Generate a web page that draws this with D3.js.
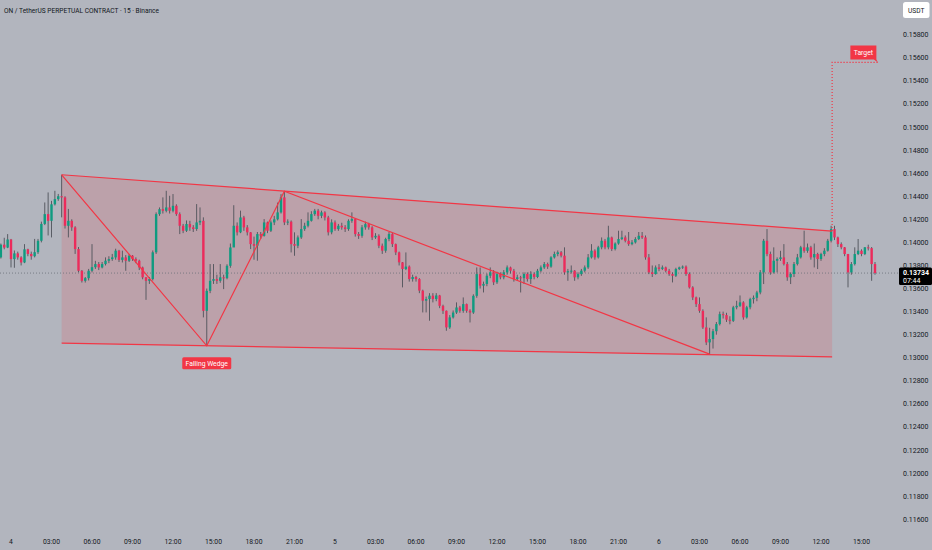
<!DOCTYPE html>
<html><head><meta charset="utf-8">
<script src="https://cdn.jsdelivr.net/npm/d3@7"></script>
<style>html,body{margin:0;padding:0;background:#b2b5be;}svg{display:block;}</style>
</head><body>
<script>
// ---- data ----
const firstIndex = -3;
const firstOpen = 0.13870;
const closes = [
0.13980,0.13955,0.14025,0.13855,0.13905,0.13870,0.13826,0.13940,0.13900,0.13880,
0.13915,0.14014,0.14160,0.14245,0.14187,0.14330,0.14375,0.14400,0.14390,0.14144,
0.14187,0.14130,0.13942,0.13754,0.13667,0.13690,0.13754,0.13785,0.13812,0.13783,
0.13812,0.13841,0.13855,0.13870,0.13928,0.13848,0.13870,0.13841,0.13885,0.13856,
0.13841,0.13783,0.13697,0.13667,0.13682,0.13914,0.14245,0.14288,0.14274,0.14303,
0.14274,0.14317,0.14245,0.14144,0.14101,0.14159,0.14130,0.14116,0.14173,0.14187,
0.13407,0.13580,0.13667,0.13682,0.13667,0.13697,0.13690,0.13797,0.13956,0.14144,
0.14087,0.14216,0.14130,0.14087,0.13985,0.13971,0.14072,0.14057,0.14173,0.14101,
0.14173,0.14200,0.14260,0.14390,0.14173,0.14180,0.13985,0.13971,0.14043,0.14115,
0.14144,0.14187,0.14245,0.14275,0.14230,0.14260,0.14216,0.14087,0.14173,0.14115,
0.14144,0.14130,0.14115,0.14187,0.14202,0.14072,0.14057,0.14130,0.14158,0.14130,
0.14043,0.14057,0.13971,0.13928,0.14029,0.14072,0.13985,0.13913,0.13827,0.13769,
0.13790,0.13682,0.13700,0.13682,0.13582,0.13495,0.13509,0.13538,0.13509,0.13540,
0.13450,0.13407,0.13263,0.13350,0.13392,0.13436,0.13407,0.13465,0.13407,0.13392,
0.13537,0.13725,0.13625,0.13640,0.13711,0.13740,0.13654,0.13725,0.13697,0.13740,
0.13783,0.13754,0.13682,0.13697,0.13690,0.13726,0.13682,0.13725,0.13700,0.13754,
0.13783,0.13812,0.13790,0.13870,0.13899,0.13914,0.13885,0.13740,0.13750,0.13755,
0.13697,0.13725,0.13755,0.13783,0.13870,0.13928,0.13870,0.13957,0.14014,0.13957,
0.14043,0.13942,0.13990,0.14029,0.14043,0.14014,0.13985,0.14000,0.14029,0.14057,
0.14043,0.13870,0.13740,0.13726,0.13783,0.13770,0.13783,0.13754,0.13725,0.13711,
0.13769,0.13783,0.13790,0.13726,0.13610,0.13523,0.13465,0.13407,0.13263,0.13133,
0.13162,0.13230,0.13292,0.13378,0.13370,0.13330,0.13320,0.13437,0.13450,0.13480,
0.13350,0.13437,0.13508,0.13520,0.13566,0.13740,0.14014,0.13899,0.13740,0.13841,
0.13856,0.13870,0.13812,0.13697,0.13726,0.13812,0.13870,0.13957,0.13927,0.13957,
0.13870,0.13899,0.13856,0.13899,0.13928,0.14014,0.14115,0.14043,0.13985,0.13957,
0.13899,0.13740,0.13812,0.13899,0.13928,0.13899,0.13957,0.13950,0.13812,0.13734];
const highs = [
0.13990,0.14040,0.14072,0.14030,0.13930,0.13920,0.13880,0.13985,0.13945,0.13920,
0.14030,0.14030,0.14180,0.14346,0.14433,0.14360,0.14447,0.14420,0.14586,0.14400,
0.14290,0.14200,0.14140,0.13960,0.13760,0.13700,0.13770,0.13985,0.13840,0.13830,
0.13830,0.13870,0.13880,0.13900,0.13945,0.13935,0.13928,0.13890,0.13900,0.13890,
0.13870,0.13850,0.13790,0.13700,0.13700,0.13930,0.14260,0.14303,0.14390,0.14447,
0.14404,0.14419,0.14330,0.14260,0.14160,0.14190,0.14187,0.14150,0.14332,0.14303,
0.14217,0.13600,0.13812,0.13812,0.13720,0.13812,0.13720,0.13810,0.13990,0.14322,
0.14173,0.14275,0.14230,0.14150,0.14090,0.14050,0.14090,0.14090,0.14202,0.14180,
0.14190,0.14230,0.14345,0.14418,0.14443,0.14200,0.14190,0.14087,0.14060,0.14202,
0.14170,0.14260,0.14270,0.14290,0.14290,0.14275,0.14270,0.14230,0.14200,0.14190,
0.14160,0.14170,0.14150,0.14200,0.14260,0.14210,0.14090,0.14150,0.14180,0.14170,
0.14140,0.14080,0.14070,0.13990,0.14040,0.14090,0.14080,0.13990,0.13920,0.13830,
0.13913,0.13800,0.13720,0.13710,0.13690,0.13590,0.13530,0.13560,0.13560,0.13560,
0.13545,0.13460,0.13410,0.13370,0.13410,0.13480,0.13450,0.13523,0.13470,0.13420,
0.13550,0.13783,0.13783,0.13660,0.13730,0.13783,0.13760,0.13745,0.13740,0.13760,
0.13800,0.13790,0.13770,0.13720,0.13710,0.13740,0.13740,0.13750,0.13740,0.13770,
0.13800,0.13830,0.13825,0.13880,0.13920,0.13930,0.13925,0.13957,0.13770,0.13800,
0.13760,0.13740,0.13770,0.13800,0.13899,0.13985,0.13940,0.13970,0.14043,0.14030,
0.14144,0.14050,0.14000,0.14101,0.14101,0.14060,0.14090,0.14020,0.14045,0.14090,
0.14090,0.14060,0.13899,0.13800,0.13800,0.13812,0.13800,0.13790,0.13770,0.13740,
0.13780,0.13790,0.13800,0.13800,0.13740,0.13620,0.13530,0.13523,0.13420,0.13350,
0.13260,0.13250,0.13310,0.13400,0.13400,0.13390,0.13360,0.13450,0.13494,0.13540,
0.13490,0.13450,0.13520,0.13540,0.13580,0.13760,0.14030,0.14115,0.13920,0.13957,
0.13870,0.13927,0.13985,0.13830,0.13740,0.13830,0.13900,0.13970,0.14101,0.13990,
0.13970,0.13990,0.13910,0.13910,0.13950,0.14030,0.14144,0.14144,0.14050,0.14000,
0.13960,0.13900,0.13830,0.13957,0.14029,0.13940,0.13960,0.13980,0.13960,0.13830];
const lows = [
0.13860,0.13940,0.13950,0.13783,0.13780,0.13850,0.13800,0.13820,0.13880,0.13850,
0.13870,0.13900,0.14000,0.14150,0.14060,0.14043,0.14320,0.14360,0.14217,0.14120,
0.14043,0.14100,0.13900,0.13740,0.13652,0.13652,0.13670,0.13740,0.13770,0.13760,
0.13775,0.13800,0.13820,0.13840,0.13850,0.13830,0.13826,0.13754,0.13830,0.13840,
0.13820,0.13760,0.13680,0.13502,0.13640,0.13670,0.13900,0.14230,0.14250,0.14260,
0.14250,0.14260,0.14230,0.14072,0.14080,0.14090,0.14100,0.14090,0.14100,0.14150,
0.13350,0.13104,0.13560,0.13640,0.13640,0.13650,0.13595,0.13680,0.13780,0.13960,
0.14060,0.14080,0.14100,0.14060,0.13942,0.13850,0.13841,0.14030,0.14050,0.14080,
0.14090,0.14150,0.14190,0.14250,0.14150,0.14150,0.13913,0.13884,0.13950,0.14030,
0.14100,0.14130,0.14180,0.14230,0.14200,0.14210,0.14190,0.14060,0.14070,0.14100,
0.14100,0.14110,0.14090,0.14100,0.14170,0.14050,0.14030,0.14040,0.14110,0.14110,
0.14020,0.14030,0.13950,0.13900,0.13910,0.14010,0.13960,0.13890,0.13800,0.13610,
0.13760,0.13660,0.13660,0.13660,0.13560,0.13393,0.13393,0.13321,0.13480,0.13490,
0.13430,0.13380,0.13234,0.13250,0.13340,0.13380,0.13390,0.13390,0.13390,0.13306,
0.13380,0.13520,0.13600,0.13566,0.13620,0.13690,0.13630,0.13640,0.13680,0.13680,
0.13720,0.13730,0.13660,0.13670,0.13566,0.13640,0.13660,0.13640,0.13680,0.13690,
0.13740,0.13770,0.13770,0.13780,0.13860,0.13880,0.13870,0.13720,0.13667,0.13730,
0.13667,0.13680,0.13710,0.13740,0.13770,0.13860,0.13850,0.13860,0.13940,0.13940,
0.13940,0.13925,0.13930,0.13980,0.14020,0.14000,0.13970,0.13975,0.13990,0.14020,
0.14030,0.13850,0.13725,0.13700,0.13720,0.13750,0.13760,0.13740,0.13710,0.13653,
0.13700,0.13760,0.13770,0.13710,0.13600,0.13500,0.13440,0.13390,0.13250,0.13110,
0.13032,0.13080,0.13200,0.13280,0.13340,0.13310,0.13290,0.13310,0.13420,0.13440,
0.13330,0.13340,0.13420,0.13470,0.13490,0.13550,0.13639,0.13880,0.13720,0.13730,
0.13740,0.13840,0.13800,0.13667,0.13639,0.13700,0.13800,0.13860,0.13910,0.13910,
0.13850,0.13783,0.13769,0.13840,0.13880,0.13920,0.14000,0.14020,0.13960,0.13940,
0.13880,0.13610,0.13720,0.13800,0.13890,0.13880,0.13890,0.13930,0.13667,0.13720];
const priceTicks = [0.116,0.118,0.120,0.122,0.124,0.126,0.128,0.130,0.132,0.134,0.136,0.138,0.140,0.142,0.144,0.146,0.148,0.150,0.152,0.154,0.156,0.158];
const timeTickIndex = [0,12,24,36,48,60,72,84,96,108,120,132,144,156,168,180,192,204,216,228,240,252];
const timeTickLabels = ["4","03:00","06:00","09:00","12:00","15:00","18:00","21:00","5","03:00","06:00","09:00","12:00","15:00","18:00","21:00","6","03:00","06:00","09:00","12:00","15:00"];
// pattern drawing anchors [bar index, price]
const wedgeUpper = [[15,0.14586],[243.3,0.14098]];
const wedgeLower = [[15,0.13127],[243.3,0.13008]];
const zigzag = [[15,0.14586],[58,0.13104],[81,0.14443],[207,0.13032]];
const targetPath = [[243.3,0.14098],[243.3,0.15560],[257,0.15560]];
const lastPrice = 0.13734, countdown = "07:44";
const title = "ON / TetherUS PERPETUAL CONTRACT · 15 · Binance";

// ---- build ----
const W = 932, H = 550;
const x = d3.scaleLinear().domain([0, 252]).range([11, 861.5]);
const y = d3.scaleLinear().domain([0.116, 0.158]).range([519.3, 34.7]);
const UP = "#0f9b80", DOWN = "#ec2b5b", RED = "#f23645";

const bars = closes.map((c, k) => ({
  i: firstIndex + k,
  o: k === 0 ? firstOpen : closes[k - 1],
  h: highs[k], l: lows[k], c
}));

const svg = d3.select("body").append("svg").attr("width", W).attr("height", H)
  .style("font-family", "Roboto, 'Liberation Sans', sans-serif");
svg.append("rect").attr("width", W).attr("height", H).attr("fill", "#b2b5be");

// wedge fill
const poly = [wedgeUpper[0], wedgeUpper[1], wedgeLower[1], wedgeLower[0]];
svg.append("polygon")
  .attr("points", poly.map(d => [x(d[0]), y(d[1])].join(",")).join(" "))
  .attr("fill", RED).attr("fill-opacity", 0.16);

// last price dotted line
svg.append("line").attr("x1", 0).attr("x2", 898)
  .attr("y1", y(lastPrice)).attr("y2", y(lastPrice))
  .attr("stroke", "#6a6d76").attr("stroke-width", 0.8).attr("stroke-dasharray", "1,2");

// candles
const g = svg.append("g");
g.selectAll("line.wick").data(bars).join("line").attr("class", "wick")
  .attr("x1", d => x(d.i)).attr("x2", d => x(d.i))
  .attr("y1", d => y(d.h)).attr("y2", d => y(d.l))
  .attr("stroke", "#4f525a").attr("stroke-width", 0.9);
g.selectAll("rect.body").data(bars).join("rect").attr("class", "body")
  .attr("x", d => x(d.i) - 1.2).attr("width", 2.4)
  .attr("y", d => y(Math.max(d.o, d.c)))
  .attr("height", d => Math.max(1, Math.abs(y(d.o) - y(d.c))))
  .attr("fill", d => d.c >= d.o ? UP : DOWN);

// pattern lines
const line = d3.line().x(d => x(d[0])).y(d => y(d[1]));
[wedgeUpper, wedgeLower, zigzag].forEach(p =>
  svg.append("path").attr("d", line(p)).attr("fill", "none")
    .attr("stroke", RED).attr("stroke-width", 1.2));
svg.append("path").attr("d", line(targetPath)).attr("fill", "none")
  .attr("stroke", RED).attr("stroke-width", 1.2).attr("stroke-dasharray", "1.2,1.8");

// Falling Wedge label
const fwx = x(zigzag[1][0]), fwy = y(zigzag[1][1]);
svg.append("rect").attr("x", fwx - 24.5).attr("y", fwy + 11.5).attr("width", 49).attr("height", 12)
  .attr("rx", 1.5).attr("fill", RED);
svg.append("text").attr("x", fwx).attr("y", fwy + 20.3).attr("text-anchor", "middle")
  .attr("fill", "#fff").attr("font-size", 6.8).text("Falling Wedge");

// Target label
const tx = x(targetPath[2][0]), ty = y(targetPath[2][1]);
svg.append("path")
  .attr("d", `M${tx-28},${ty-17} h26 v14 l1.5,3 l-4,-3 h-23.5 z`)
  .attr("fill", RED);
svg.append("text").attr("x", tx - 15).attr("y", ty - 7.5).attr("text-anchor", "middle")
  .attr("fill", "#fff").attr("font-size", 6.8).text("Target");

// title
svg.append("text").attr("x", 4).attr("y", 13).attr("fill", "#131722")
  .attr("font-size", 8).attr("textLength", 155).attr("lengthAdjust", "spacingAndGlyphs")
  .text(title);

// price axis
svg.selectAll("text.pt").data(priceTicks).join("text").attr("class", "pt")
  .attr("x", 903).attr("y", d => y(d) + 2.5).attr("fill", "#131722")
  .attr("font-size", 7).text(d => d.toFixed(5));

// USDT box
svg.append("rect").attr("x", 903).attr("y", 2).attr("width", 26.5).attr("height", 16)
  .attr("rx", 2.5).attr("fill", "#ffffff");
svg.append("text").attr("x", 916.2).attr("y", 12.6).attr("text-anchor", "middle")
  .attr("fill", "#131722").attr("font-size", 6.6).text("USDT");

// last price label
const ly = y(lastPrice);
svg.append("rect").attr("x", 899).attr("y", ly - 5.7).attr("width", 33).attr("height", 17.5)
  .attr("rx", 1.5).attr("fill", "#000");
svg.append("text").attr("x", 903).attr("y", ly + 2.2).attr("fill", "#fff")
  .attr("font-size", 7).attr("font-weight", "bold").text(lastPrice.toFixed(5));
svg.append("text").attr("x", 903).attr("y", ly + 9.8).attr("fill", "#fff")
  .attr("font-size", 7).text(countdown);

// time axis
svg.selectAll("text.tt").data(timeTickIndex).join("text").attr("class", "tt")
  .attr("x", d => x(d)).attr("y", 544).attr("text-anchor", "middle")
  .attr("fill", "#131722").attr("font-size", 6.8)
  .text((d, k) => timeTickLabels[k]);
</script>
</body></html>
